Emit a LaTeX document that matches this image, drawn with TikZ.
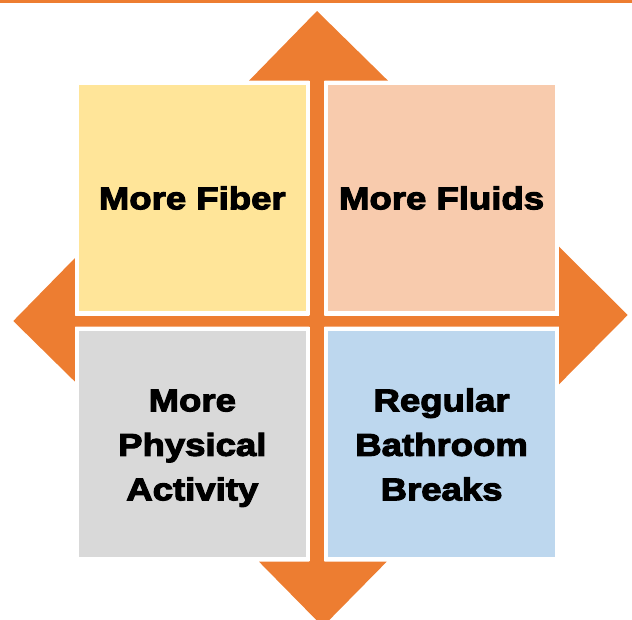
\documentclass[tikz,border=0pt]{standalone}
\usepackage{fontspec}
\newfontfamily\boxfont{Liberation Sans Bold}[FakeStretch=1.16,FakeBold=3.5]
\definecolor{arroworange}{HTML}{ED7D31}
\definecolor{fiberyellow}{HTML}{FFE599}
\definecolor{fluidpeach}{HTML}{F8CBAD}
\definecolor{activitygray}{HTML}{D9D9D9}
\definecolor{breakblue}{HTML}{BDD7EE}
\newcommand{\toproom}{\rule{0pt}{31pt}}
\newcommand{\lastroom}{\rule[-7pt]{0pt}{7pt}}
\tikzset{
  tile/.style={draw=white,line width=4pt,minimum width=230.5pt,minimum height=230pt,
    align=center,inner sep=0pt,font=\boxfont\fontsize{31.5}{44.5}\selectfont},
}
\begin{document}
\begin{tikzpicture}[x=1pt,y=-1pt]
\useasboundingbox (0,0) rectangle (632,619);
\clip (0,0) rectangle (632,619);
\fill[arroworange] (0,0) rectangle (632,2.6);
\fill[arroworange] (317,11) -- (388,80.7) -- (324.3,80.7) -- (324.3,316)
  -- (559,316) -- (559,246.7) -- (627.7,315) -- (559,384.3) -- (559,326.7)
  -- (324.3,326.7) -- (324.3,561.7) -- (386.7,561.7) -- (322.8,626.6)
  -- (259,561.7) -- (309.3,561.7) -- (309.3,326.7) -- (75,326.7)
  -- (75,381.7) -- (13.3,321) -- (75,258) -- (75,316) -- (309.3,316)
  -- (309.3,80.7) -- (249,80.7) -- cycle;
\node[tile,fill=fiberyellow] (fiber) at (192.3,198) {More Fiber};
\node[tile,fill=fluidpeach] (fluids) at (441.6,198) {More Fluids};
\node[tile,fill=activitygray] (activity) at (192.3,443.8) {\toproom More\\Physical\\Activity\lastroom};
\node[tile,fill=breakblue] (breaks) at (441.6,443.8) {\toproom Regular\\Bathroom\\Breaks\lastroom};
\end{tikzpicture}
\end{document}
